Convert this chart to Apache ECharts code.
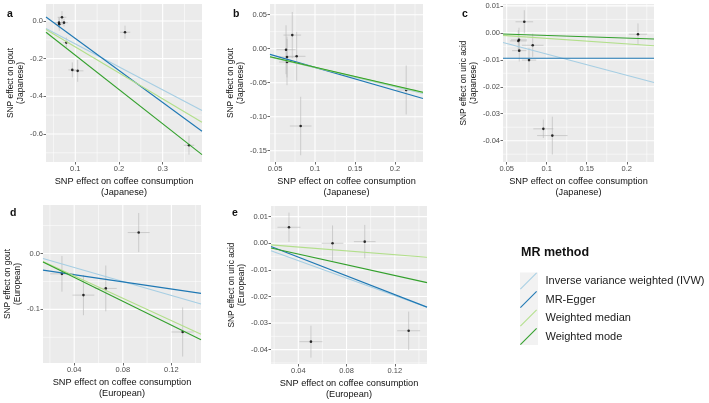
<!DOCTYPE html>
<html><head><meta charset="utf-8">
<script src="https://cdn.jsdelivr.net/npm/echarts@6/dist/echarts.min.js"></script>
<style>html,body{margin:0;padding:0;background:#fff}#c{width:709px;height:403px}</style>
</head><body><div id="c"></div>
<script>
const methods = ['Inverse variance weighted (IVW)', 'MR-Egger', 'Weighted median', 'Weighted mode'];
const methodColors = ['#a6cee3', '#1f78b4', '#b2df8a', '#33a02c'];
const panelLetters = ['a', 'b', 'c', 'd', 'e'];
const xNames = ['SNP effect on coffee consumption\n(Japanese)', 'SNP effect on coffee consumption\n(Japanese)', 'SNP effect on coffee consumption\n(Japanese)', 'SNP effect on coffee consumption\n(European)', 'SNP effect on coffee consumption\n(European)'];
const yNames = ['SNP effect on gout\n(Japanese)', 'SNP effect on gout\n(Japanese)', 'SNP effect on uric acid\n(Japanese)', 'SNP effect on gout\n(European)', 'SNP effect on uric acid\n(European)'];
const legendTitle = 'MR method';

// Panel a
const aX = [0.0627, 0.0634, 0.0696, 0.0742, 0.0795, 0.0932, 0.1055, 0.2138, 0.3602];
const aY = [-0.009, -0.0175, 0.0196, -0.009, -0.115, -0.26, -0.265, -0.06, -0.66];
const aXErr = [0.012, 0.01, 0.01, 0.009, 0.007, 0.009, 0.013, 0.012, 0.012];
const aYErr = [0.03, 0.035, 0.033, 0.02, 0.027, 0.04, 0.058, 0.035, 0.05];
const aSlopes = [-1.22, -1.70, -1.38, -1.82];
const aIntercepts = [0, 0.077, 0, 0];
const aXRange = [0.033, 0.39], aYRange = [-0.749, 0.09];
const aXTicks = [0.1, 0.2, 0.3], aXTickLabels = ['0.1', '0.2', '0.3'], aXMinor = [0.05, 0.15, 0.25, 0.35];
const aYTicks = [-0.6, -0.4, -0.2, 0], aYTickLabels = ['-0.6', '-0.4', '-0.2', '0.0'], aYMinor = [-0.7, -0.5, -0.3, -0.1];

// Panel b
const bX = [0.0638, 0.065, 0.065, 0.0716, 0.0771, 0.0821, 0.214];
const bY = [-0.0015, -0.0122, -0.0196, 0.020, -0.0112, -0.1137, -0.0607];
const bXErr = [0.012, 0.01, 0.01, 0.011, 0.011, 0.0135, 0.012];
const bYErr = [0.036, 0.03, 0.034, 0.034, 0.036, 0.043, 0.036];
const bSlopes = [-0.28, -0.339, -0.275, -0.273];
const bIntercepts = [0, 0.0065, 0, 0];
const bXRange = [0.04375, 0.235], bYRange = [-0.1666, 0.0657];
const bXTicks = [0.05, 0.1, 0.15, 0.2], bXTickLabels = ['0.05', '0.1', '0.15', '0.2'], bXMinor = [0.075, 0.125, 0.175, 0.225];
const bYTicks = [-0.15, -0.1, -0.05, 0, 0.05], bYTickLabels = ['-0.15', '-0.10', '-0.05', '0.00', '0.05'], bYMinor = [-0.125, -0.075, -0.025, 0.025];

// Panel c
const cX = [0.072, 0.0654, 0.0645, 0.0657, 0.0825, 0.0779, 0.0958, 0.107, 0.214];
const cY = [0.0041, -0.0026, -0.003, -0.0066, -0.0046, -0.0101, -0.0356, -0.0381, -0.0005];
const cXErr = [0.011, 0.01, 0.0105, 0.009, 0.0135, 0.009, 0.0125, 0.019, 0.0115];
const cYErr = [0.0043, 0.0045, 0.004, 0.004, 0.0043, 0.0045, 0.0034, 0.007, 0.004];
const cSlopes = [-0.0786, 0, -0.0205, -0.0098];
const cIntercepts = [0, -0.0094, 0, 0];
const cXRange = [0.0454, 0.234], cYRange = [-0.0479, 0.0107];
const cXTicks = [0.05, 0.1, 0.15, 0.2], cXTickLabels = ['0.05', '0.1', '0.15', '0.2'], cXMinor = [0.075, 0.125, 0.175, 0.225];
const cYTicks = [-0.04, -0.03, -0.02, -0.01, 0, 0.01], cYTickLabels = ['-0.04', '-0.03', '-0.02', '-0.01', '0.00', '0.01'], cYMinor = [-0.045, -0.035, -0.025, -0.015, -0.005, 0.005];

// Panel d
const dX = [0.0299, 0.0476, 0.066, 0.0931, 0.1293];
const dY = [-0.0364, -0.0745, -0.0625, 0.0375, -0.1405];
const dXErr = [0.0097, 0.009, 0.009, 0.009, 0.0092];
const dYErr = [0.032, 0.036, 0.041, 0.035, 0.044];
const dSlopes = [-0.627, -0.32, -1.0, -1.07];
const dIntercepts = [0, -0.0252, 0, 0];
const dXRange = [0.0143, 0.1444], dYRange = [-0.196, 0.0868];
const dXTicks = [0.04, 0.08, 0.12], dXTickLabels = ['0.04', '0.08', '0.12'], dXMinor = [0.02, 0.06, 0.1, 0.14];
const dYTicks = [-0.1, 0], dYTickLabels = ['-0.1', '0.0'], dYMinor = [-0.15, -0.05, 0.05];

// Panel e
const eX = [0.0323, 0.0505, 0.0684, 0.0951, 0.1315];
const eY = [0.006, -0.037, 0.0, 0.0006, -0.0329];
const eXErr = [0.0095, 0.0095, 0.009, 0.009, 0.0095];
const eYErr = [0.0055, 0.006, 0.0067, 0.0063, 0.0072];
const eSlopes = [-0.164, -0.176, -0.036, -0.101];
const eIntercepts = [0, 0.0018, 0, 0];
const eXRange = [0.0174, 0.1467], eYRange = [-0.0454, 0.014];
const eXTicks = [0.04, 0.08, 0.12], eXTickLabels = ['0.04', '0.08', '0.12'], eXMinor = [0.02, 0.06, 0.1, 0.14];
const eYTicks = [-0.04, -0.03, -0.02, -0.01, 0, 0.01], eYTickLabels = ['-0.04', '-0.03', '-0.02', '-0.01', '0.00', '0.01'], eYMinor = [-0.045, -0.035, -0.025, -0.015, -0.005, 0.005];

const FONT = 'Liberation Sans, Arial, sans-serif';

const panels = [
  {x: aX, y: aY, xe: aXErr, ye: aYErr, sl: aSlopes, ic: aIntercepts, xr: aXRange, yr: aYRange, xt: aXTicks, xtl: aXTickLabels, xm: aXMinor, yt: aYTicks, ytl: aYTickLabels, ym: aYMinor},
  {x: bX, y: bY, xe: bXErr, ye: bYErr, sl: bSlopes, ic: bIntercepts, xr: bXRange, yr: bYRange, xt: bXTicks, xtl: bXTickLabels, xm: bXMinor, yt: bYTicks, ytl: bYTickLabels, ym: bYMinor},
  {x: cX, y: cY, xe: cXErr, ye: cYErr, sl: cSlopes, ic: cIntercepts, xr: cXRange, yr: cYRange, xt: cXTicks, xtl: cXTickLabels, xm: cXMinor, yt: cYTicks, ytl: cYTickLabels, ym: cYMinor},
  {x: dX, y: dY, xe: dXErr, ye: dYErr, sl: dSlopes, ic: dIntercepts, xr: dXRange, yr: dYRange, xt: dXTicks, xtl: dXTickLabels, xm: dXMinor, yt: dYTicks, ytl: dYTickLabels, ym: dYMinor},
  {x: eX, y: eY, xe: eXErr, ye: eYErr, sl: eSlopes, ic: eIntercepts, xr: eXRange, yr: eYRange, xt: eXTicks, xtl: eXTickLabels, xm: eXMinor, yt: eYTicks, ytl: eYTickLabels, ym: eYMinor}
];

// layout
const gridPos = [
  {left: 46, top: 4, width: 156, height: 158},
  {left: 270, top: 4, width: 153, height: 158},
  {left: 503, top: 4, width: 151, height: 158},
  {left: 43, top: 205, width: 158, height: 158},
  {left: 271, top: 206, width: 156, height: 158}
];
const yNameGaps = [19, 17, 22, 16, 19];
const letterPos = [[7, 9], [233, 9], [462, 9], [10, 208], [232, 208]];

function lookup(ticks, labels) {
  return function (v) {
    for (let i = 0; i < ticks.length; i++) if (Math.abs(ticks[i] - v) < 1e-9) return labels[i];
    return '';
  };
}

const grids = [], xAxes = [], yAxes = [], series = [], titles = [];
panels.forEach((p, i) => {
  grids.push(Object.assign({show: true, backgroundColor: '#ebebeb', borderWidth: 0, borderColor: 'transparent', containLabel: false}, gridPos[i]));
  xAxes.push({
    type: 'value', gridIndex: i, min: p.xr[0], max: p.xr[1],
    axisLine: {show: false, onZero: false},
    axisTick: {show: true, customValues: p.xt, length: 2.5, lineStyle: {color: '#444', width: 0.8}},
    axisLabel: {customValues: p.xt, formatter: lookup(p.xt, p.xtl), fontSize: 7.5, color: '#4d4d4d', margin: 3, fontFamily: FONT},
    splitLine: {show: false},
    name: xNames[i], nameLocation: 'middle', nameGap: 14,
    nameTextStyle: {fontSize: 9.2, color: '#111', fontFamily: FONT, lineHeight: 11}
  });
  yAxes.push({
    type: 'value', gridIndex: i, min: p.yr[0], max: p.yr[1],
    axisLine: {show: false, onZero: false},
    axisTick: {show: true, customValues: p.yt, length: 2.5, lineStyle: {color: '#444', width: 0.8}},
    axisLabel: {customValues: p.yt, formatter: lookup(p.yt, p.ytl), fontSize: 7.5, color: '#4d4d4d', margin: 3, fontFamily: FONT},
    splitLine: {show: false},
    name: yNames[i], nameLocation: 'middle', nameRotate: 90, nameGap: yNameGaps[i],
    nameTextStyle: {fontSize: 8.4, color: '#111', fontFamily: FONT, lineHeight: 10}
  });
  titles.push({text: panelLetters[i], left: letterPos[i][0], top: letterPos[i][1], padding: 0,
    textStyle: {fontSize: 10.5, fontWeight: 'bold', color: '#111', fontFamily: FONT}});
});

panels.forEach((p, i) => {
  // background grid lines: [position value, orientation (0 vertical / 1 horizontal), major flag]
  const gridData = []
    .concat(p.xm.map(v => [v, 0, 0]))
    .concat(p.ym.map(v => [v, 1, 0]))
    .concat(p.xt.map(v => [v, 0, 1]))
    .concat(p.yt.map(v => [v, 1, 1]));
  series.push({
    type: 'custom', coordinateSystem: 'cartesian2d', xAxisIndex: i, yAxisIndex: i, silent: true, z: 1,
    data: gridData, encode: {itemName: 0},
    renderItem: function (params, api) {
      const cs = params.coordSys;
      const v = api.value(0), orient = api.value(1), major = api.value(2);
      const st = {stroke: '#ffffff', lineWidth: major ? 1.1 : 0.55};
      if (orient === 0) {
        const x = api.coord([v, p.yr[0]])[0];
        return {type: 'line', shape: {x1: x, y1: cs.y, x2: x, y2: cs.y + cs.height}, style: st};
      }
      const y = api.coord([p.xr[0], v])[1];
      return {type: 'line', shape: {x1: cs.x, y1: y, x2: cs.x + cs.width, y2: y}, style: st};
    }
  });
  series.push({
    type: 'custom', xAxisIndex: i, yAxisIndex: i, silent: true, z: 2,
    data: p.x.map((v, k) => [v, p.y[k], p.xe[k], p.ye[k]]),
    encode: {x: 0, y: 1},
    renderItem: function (params, api) {
      const x = api.value(0), y = api.value(1), xe = api.value(2), ye = api.value(3);
      const h1 = api.coord([x - xe, y]), h2 = api.coord([x + xe, y]);
      const v1 = api.coord([x, y - ye]), v2 = api.coord([x, y + ye]);
      const st = {stroke: '#b5b5b5', lineWidth: 0.6};
      return {type: 'group', children: [
        {type: 'line', shape: {x1: h1[0], y1: h1[1], x2: h2[0], y2: h2[1]}, style: st},
        {type: 'line', shape: {x1: v1[0], y1: v1[1], x2: v2[0], y2: v2[1]}, style: st}
      ]};
    }
  });
  series.push({
    type: 'scatter', xAxisIndex: i, yAxisIndex: i, silent: true, z: 3,
    symbolSize: 2.6, itemStyle: {color: '#000'},
    data: p.x.map((v, k) => [v, p.y[k]])
  });
  methods.forEach((m, j) => {
    const x0 = p.xr[0], x1 = p.xr[1];
    series.push({
      type: 'line', name: m, xAxisIndex: i, yAxisIndex: i, silent: true, z: 4,
      symbol: 'none', color: methodColors[j], clip: true,
      itemStyle: {color: methodColors[j]},
      lineStyle: {color: methodColors[j], width: 1.1},
      data: [[x0, p.ic[j] + p.sl[j] * x0], [x1, p.ic[j] + p.sl[j] * x1]]
    });
  });
});

titles.push({text: legendTitle, left: 521, top: 246, padding: 0,
  textStyle: {fontSize: 12.5, fontWeight: 'bold', color: '#111', fontFamily: FONT}});

const option = {
  animation: false,
  backgroundColor: '#ffffff',
  title: titles,
  grid: grids,
  xAxis: xAxes,
  yAxis: yAxes,
  legend: {
    data: methods, orient: 'vertical', left: 520, top: 272.5, padding: 0,
    itemWidth: 18, itemHeight: 17, itemGap: 1.5, selectedMode: false,
    icon: 'path://M0,17.2 L0.8,18 L18,0.8 L17.2,0 Z',
    textStyle: {fontSize: 11, color: '#1a1a1a', fontFamily: FONT, padding: [0, 0, 0, 3]}
  },
  graphic: [{type: 'rect', left: 520, top: 272.5, z: -10, silent: true,
    shape: {width: 18, height: 72.5}, style: {fill: '#f2f2f2'}}],
  series: series
};

const chart = echarts.init(document.getElementById('c'), null, {renderer: 'canvas'});
chart.setOption(option);
</script>
</body></html>
